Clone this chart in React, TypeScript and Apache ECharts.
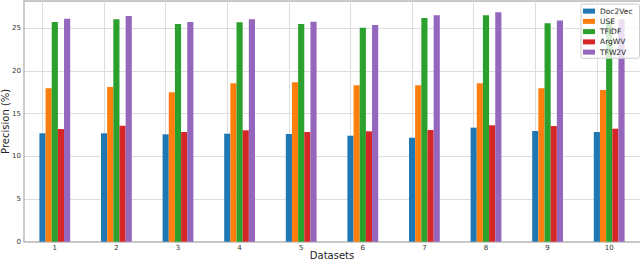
import React, { useEffect, useRef } from "react";
import * as echarts from "echarts";

const categories = ["1", "2", "3", "4", "5", "6", "7", "8", "9", "10"];
const seriesNames = ["Doc2Vec", "USE", "TFIDF", "ArgWV", "TFW2V"];
const doc2vec = [12.7, 12.7, 12.58, 12.65, 12.62, 12.42, 12.18, 13.36, 12.97, 12.85];
const use = [17.97, 18.12, 17.5, 18.55, 18.67, 18.32, 18.32, 18.55, 17.97, 17.77];
const tfidf = [25.74, 26.05, 25.5, 25.7, 25.5, 25.07, 26.2, 26.52, 25.58, 25.85];
const argwv = [13.2, 13.59, 12.85, 13.05, 12.85, 12.93, 13.09, 13.64, 13.55, 13.24];
const tfw2v = [26.13, 26.44, 25.74, 26.05, 25.77, 25.39, 26.52, 26.87, 25.93, 26.05];
const yTicks = [0, 5, 10, 15, 20, 25];
const colors = ["#1f77b4", "#ff7f0e", "#2ca02c", "#d62728", "#9467bd"];

const FONT = "DejaVu Sans";

export default function App() {
  const ref = useRef<HTMLDivElement>(null);
  useEffect(() => {
    if (!ref.current) return;
    const chart = echarts.init(ref.current, undefined, { renderer: "svg" });
    const values = [doc2vec, use, tfidf, argwv, tfw2v];
    const series: any[] = values.map((v, i) => ({
      name: seriesNames[i],
      type: "bar",
      data: v,
      barWidth: "10%",
      barGap: "0%",
      z: 3,
      itemStyle: { color: colors[i] },
      xAxisIndex: 0,
    }));
    series[0].markLine = {
      silent: true,
      symbol: "none",
      z: 1,
      label: { show: false },
      lineStyle: { color: "#dddddd", type: "solid", width: 1 },
      data: categories.map((c) => ({ xAxis: c })),
    };
    chart.setOption({
      animation: false,
      color: colors,
      textStyle: { fontFamily: FONT },
      grid: { left: 24, right: 0, top: 1, bottom: 18.3, containLabel: false, outerBoundsMode: "none" },
      legend: {
        orient: "vertical",
        left: 581,
        top: 4,
        data: seriesNames,
        icon: "rect",
        itemWidth: 12,
        itemHeight: 5,
        itemGap: 0,
        padding: [2, 7, 1, 2],
        backgroundColor: "rgba(255,255,255,0.8)",
        borderColor: "#cccccc",
        borderWidth: 1,
        borderRadius: 2,
        z: 10,
        textStyle: { fontFamily: FONT, fontSize: 7.5, color: "#222", lineHeight: 10.25 },
      },
      xAxis: [
        {
          type: "category",
          data: categories,
          name: "Datasets",
          nameLocation: "middle",
          nameGap: 8.5,
          nameMoveOverlap: false,
          nameTextStyle: { fontFamily: FONT, fontSize: 10, color: "#222" },
          axisLine: { show: true, lineStyle: { color: "#bbbbbb", width: 1.5 } },
          axisTick: { show: false },
          axisLabel: { fontFamily: FONT, fontSize: 7, color: "#333", margin: 3 },
          splitLine: { show: false },
        },
        {
          type: "category",
          data: categories,
          position: "top",
          axisLine: { show: true, lineStyle: { color: "#bbbbbb", width: 1.5 } },
          axisTick: { show: false },
          axisLabel: { show: false },
          splitLine: { show: false },
        },
      ],
      yAxis: {
        type: "value",
        min: 0,
        max: 28.2,
        interval: 5,
        name: "Precision (%)",
        nameLocation: "middle",
        nameGap: 13.5,
        nameMoveOverlap: false,
        nameTextStyle: { fontFamily: FONT, fontSize: 10, color: "#222" },
        axisLine: { show: true, lineStyle: { color: "#bbbbbb", width: 1.5 } },
        axisTick: { show: false },
        axisLabel: {
          fontFamily: FONT,
          fontSize: 7,
          color: "#333",
          margin: 3,
          showMaxLabel: false,
          formatter: (v: number) => (yTicks.includes(v) ? String(v) : ""),
        },
        splitLine: { show: true, lineStyle: { color: "#dddddd", width: 1 } },
      },
      series,
    });
    return () => chart.dispose();
  }, []);
  return <div ref={ref} style={{ width: 640, height: 260, position: "absolute", left: 0, top: 0 }} />;
}
